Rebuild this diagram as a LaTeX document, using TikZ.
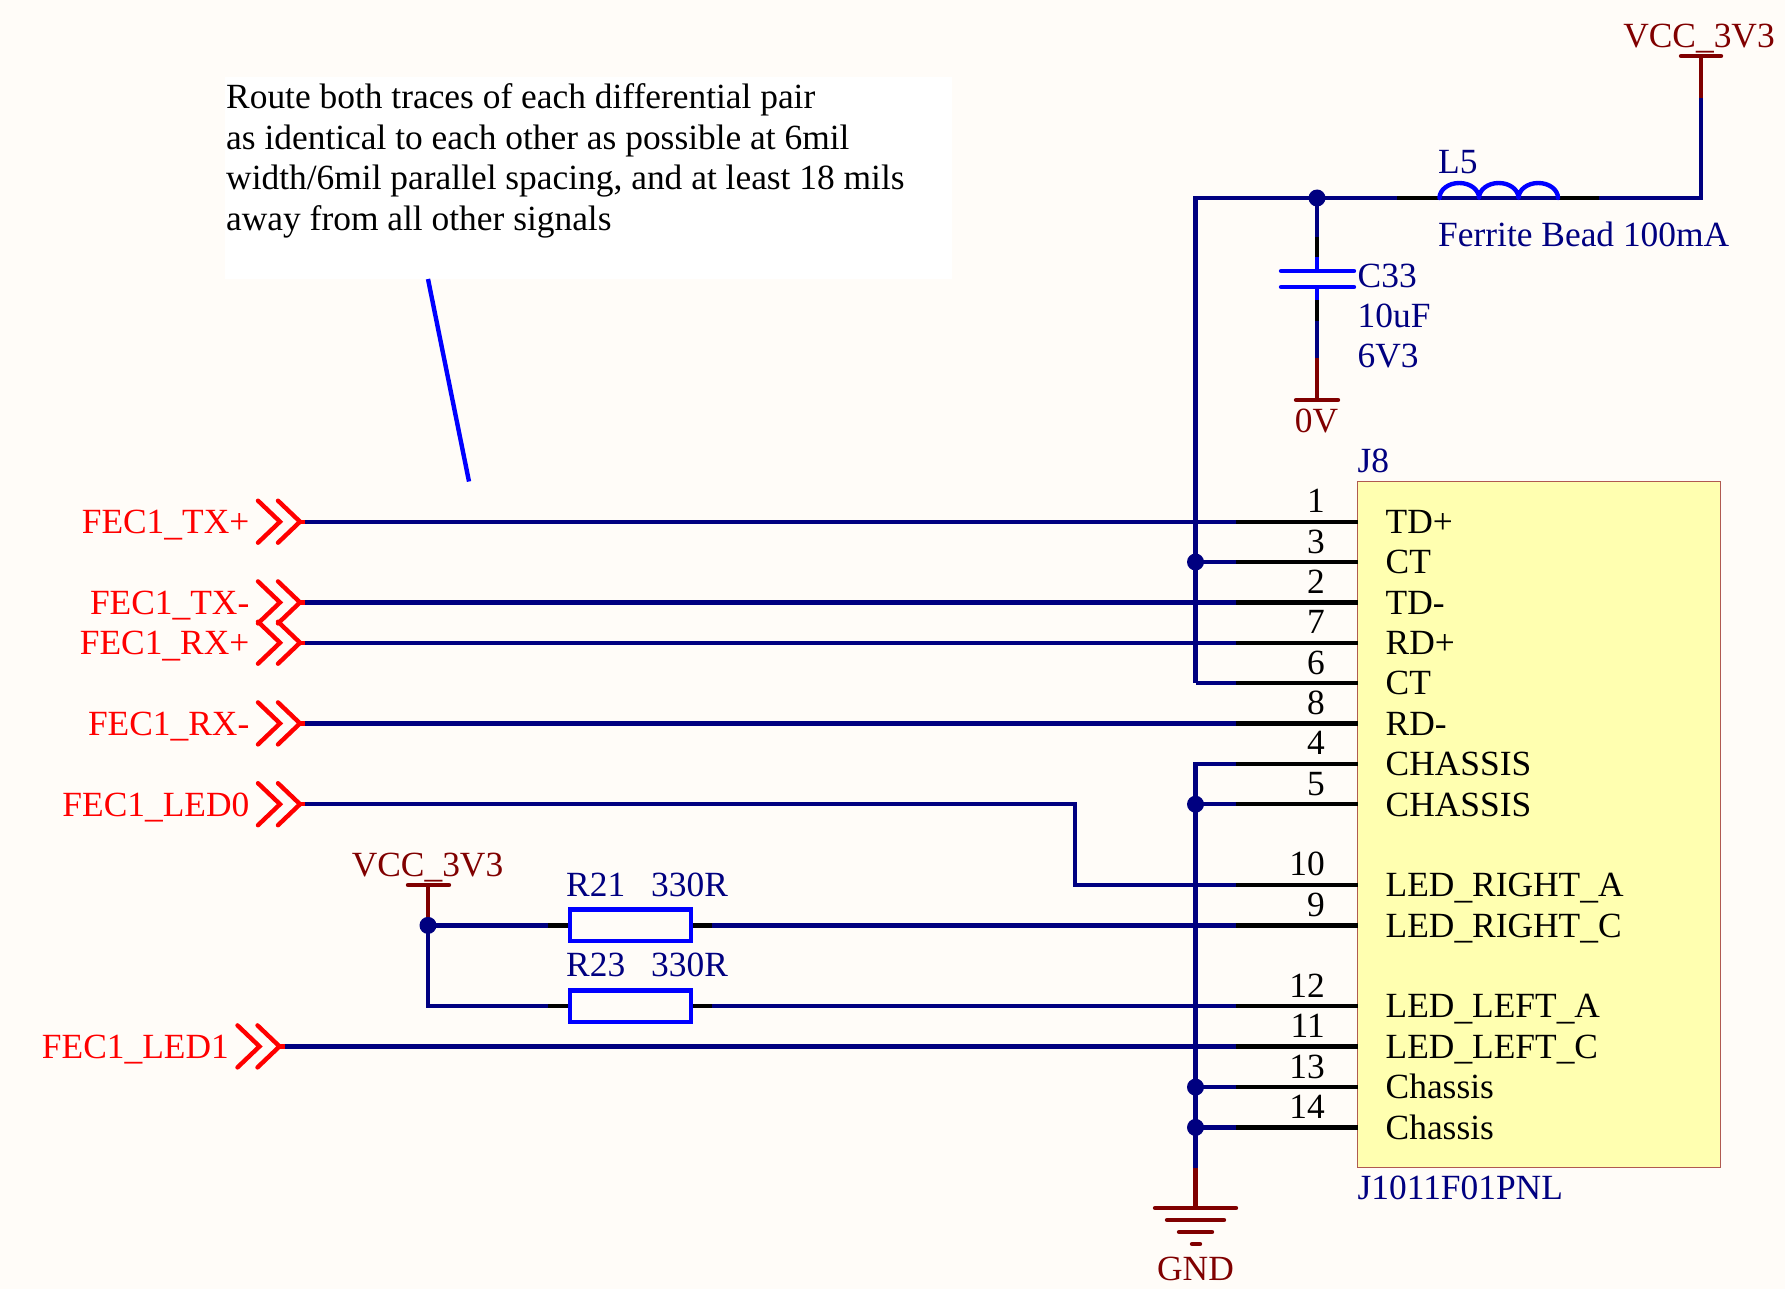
\documentclass[tikz,border=0pt]{standalone}
\usetikzlibrary{calc}
\usepackage{fontspec}
\setmainfont{Liberation Serif}
\definecolor{bgc}{HTML}{FFFCF8}
\definecolor{navyw}{HTML}{000080}
\definecolor{darkr}{HTML}{800000}
\definecolor{purer}{HTML}{FF0000}
\definecolor{pureb}{HTML}{0000FF}
\definecolor{boxfill}{HTML}{FFFFB0}
\definecolor{boxline}{HTML}{B05A50}
\newcommand\us{\raisebox{-1.5pt}{\_}}
\tikzset{
  x=1pt,y=-1pt,
  wire/.style={draw=navyw,line width=4.4pt},
  stub/.style={draw=black,line width=4.4pt},
  pwr/.style={draw=darkr,line width=4.4pt},
  pwrbar/.style={draw=darkr,line width=4.4pt,line cap=round},
  comp/.style={draw=pureb,line width=4.4pt,line cap=round,line join=round},
  dot/.style={circle,fill=navyw,inner sep=0pt,minimum size=17pt},
  txt/.style={inner sep=0pt,font=\fontsize{35.4}{40.4}\selectfont},
  ref/.style={txt,text=navyw,anchor=base west},
  pintxt/.style={txt,text=black,anchor=base west},
  numtxt/.style={txt,text=black,anchor=base east},
  pwrtxt/.style={txt,text=darkr,anchor=base},
  porttxt/.style={txt,text=purer,anchor=base east},
  notetxt/.style={txt,text=black,anchor=base west},
  pics/chev/.style={code={
    \draw[draw=purer,line width=4.4pt,line cap=round,line join=miter] (-42,-21) -- (-20,0) -- (-42,21);
    \draw[draw=purer,line width=4.4pt,line cap=round,line join=miter] (-22,-21) -- (0,0) -- (-22,21);
    \draw[draw=purer,line width=4.4pt] (0,0) -- (5,0);
  }},
}
\begin{document}
\begin{tikzpicture}
\useasboundingbox[fill=bgc] (0,0) rectangle (1785,1289);

% note
\node[fill=white,inner sep=0pt,anchor=north west] (notebox) at (225,77) {\rule{0pt}{202pt}\rule{727pt}{0pt}};
\node[notetxt] (note1) at (226,109) {Route both traces of each differential pair};
\node[notetxt] (note2) at (226,149.5) {as identical to each other as possible at 6mil};
\node[notetxt] (note3) at (226,190) {width/6mil parallel spacing, and at least 18 mils};
\node[notetxt] (note4) at (226,230.5) {away from all other signals};
\coordinate (noteA) at (428,279);
\coordinate (noteB) at (469,481.5);
\draw[draw=pureb,line width=4.4pt] (noteA) -- (noteB);

% connector body
\node[draw=boxline,fill=boxfill,line width=1.8pt,inner sep=0pt,anchor=north west,minimum width=363pt,minimum height=686pt] (J8body) at (1356.5,480.5) {};
\node[ref] (J8) at (1357.5,472) {J8};
\node[ref] (J8val) at (1357.5,1199) {J1011F01PNL};

% pins
\foreach \n/\y/\lab in {a1/521.7/TD+,a3/562/CT,a2/602.4/TD-,a7/642.7/RD+,a6/683.1/CT,a8/723.4/RD-,a4/763.8/CHASSIS,a5/804.2/CHASSIS,a10/884.9/LED\us RIGHT\us A,a9/925.4/LED\us RIGHT\us C,a12/1006.1/LED\us LEFT\us A,a11/1046.4/LED\us LEFT\us C,a13/1087.1/Chassis,a14/1127.4/Chassis}{
  \coordinate (s\n) at (1236,\y);
  \coordinate (p\n) at (1357.5,\y);
  \node[pintxt] (lab\n) at (1385.5,\y+11.8) {\lab};
}
\foreach \n/\y/\t in {a1/521.7/1,a3/562/3,a2/602.4/2,a7/642.7/7,a6/683.1/6,a8/723.4/8,a4/763.8/4,a5/804.2/5,a10/884.9/10,a9/925.4/9,a12/1006.1/12,a11/1046.4/11,a13/1087.1/13,a14/1127.4/14}{
  \node[numtxt] (num\n) at (1325,\y-9) {\t};
}

% ports
\coordinate (tipTXp) at (300,521.7);
\coordinate (tipTXm) at (300,602.4);
\coordinate (tipRXp) at (300,642.7);
\coordinate (tipRXm) at (300,723.4);
\coordinate (tipL0) at (300,804.2);
\coordinate (tipL1) at (279.5,1046.4);
\foreach \c in {tipTXp,tipTXm,tipRXp,tipRXm,tipL0,tipL1}{ \pic at (\c) {chev}; }
\node[porttxt] (nTXp) at (249.5,533.5) {FEC1\us TX+};
\node[porttxt] (nTXm) at (249.5,614.2) {FEC1\us TX-};
\node[porttxt] (nRXp) at (249.5,654.5) {FEC1\us RX+};
\node[porttxt] (nRXm) at (249.5,735.2) {FEC1\us RX-};
\node[porttxt] (nL0) at (249.5,816) {FEC1\us LED0};
\node[porttxt] (nL1) at (229,1058.2) {FEC1\us LED1};

% coordinates of the wires
\coordinate (topL) at (1195.5,198);
\coordinate (j1) at (1317,198);
\coordinate (lA) at (1397,198);
\coordinate (lB) at (1439.5,198);
\coordinate (lC) at (1558,198);
\coordinate (lD) at (1599,198);
\coordinate (vcc1) at (1701,198);
\coordinate (vcc2) at (1701,98);
\coordinate (vcc3) at (1701,56);
\coordinate (vccL) at (1681,56);
\coordinate (vccR) at (1721,56);
\coordinate (led0a) at (1075,804.2);
\coordinate (led0b) at (1075,884.9);
\coordinate (jr) at (428,925.4);
\coordinate (vr) at (428,885);
\coordinate (vrL) at (408,885);
\coordinate (vrR) at (449,885);
\coordinate (cr) at (428,1006.1);
\coordinate (gndTop) at (1195.5,763.8);
\coordinate (gndRed) at (1195.5,1168);
\coordinate (gndBot) at (1195.5,1208);

% wires
\draw[wire,line join=miter] (sa6 -| topL) -- (topL) -- (vcc1) -- (vcc2);
\draw[wire] (sa6 -| topL) -- (sa6);
\draw[wire] (sa3 -| topL) -- (sa3);
\draw[wire,line join=miter] (sa4) -- (gndTop) -- (gndRed);
\draw[wire] (gndTop |- sa5) -- (sa5);
\draw[wire] (gndTop |- sa13) -- (sa13);
\draw[wire] (gndTop |- sa14) -- (sa14);
\draw[wire] ($(tipTXp)+(5,0)$) -- (sa1);
\draw[wire] ($(tipTXm)+(5,0)$) -- (sa2);
\draw[wire] ($(tipRXp)+(5,0)$) -- (sa7);
\draw[wire] ($(tipRXm)+(5,0)$) -- (sa8);
\draw[wire,line join=miter] ($(tipL0)+(5,0)$) -- (led0a) -- (led0b) -- (sa10);
\draw[wire] ($(tipL1)+(5,0)$) -- (sa11);

% pin stubs
\foreach \n in {a1,a3,a2,a7,a6,a8,a4,a5,a10,a9,a12,a11,a13,a14}{
  \draw[stub] (s\n) -- (p\n);
}

% L5
\draw[stub] (lA) -- (lB);
\draw[stub] (lC) -- (lD);
\draw[comp] (lB) arc[start angle=180,end angle=0,x radius=19.75pt,y radius=15pt]
  arc[start angle=180,end angle=0,x radius=19.75pt,y radius=15pt]
  arc[start angle=180,end angle=0,x radius=19.75pt,y radius=15pt];
\node[ref] (L5) at (1438,174) {L5};
\node[ref] (L5val) at (1438,246.5) {Ferrite Bead 100mA};

% VCC top
\draw[pwr] (vcc2) -- (vcc3);
\draw[pwrbar] (vccL) -- (vccR);
\node[pwrtxt] (vccT) at (1699,47.5) {VCC\us 3V3};

% C33
\coordinate (c1) at (1317,237);
\coordinate (c2) at (1317,257);
\coordinate (c3) at (1317,271);
\coordinate (c4) at (1317,287);
\coordinate (c5) at (1317,300);
\coordinate (c6) at (1317,321);
\coordinate (c7) at (1317,358);
\coordinate (c8) at (1317,400);
\coordinate (plL) at (1281,271);
\coordinate (plR) at (1354,271);
\coordinate (plL2) at (1281,287);
\coordinate (plR2) at (1354,287);
\coordinate (zL) at (1296,400);
\coordinate (zR) at (1338,400);
\draw[wire] (j1) -- (c1);
\draw[stub] (c1) -- (c2);
\draw[draw=pureb,line width=4.4pt] (c2) -- (c3);
\draw[draw=pureb,line width=4.4pt] (c4) -- (c5);
\draw[comp] (plL) -- (plR);
\draw[comp] (plL2) -- (plR2);
\draw[stub] (c5) -- (c6);
\draw[wire] (c6) -- (c7);
\draw[pwr] (c7) -- (c8);
\draw[pwrbar] (zL) -- (zR);
\node[ref] (C33) at (1357.5,287.5) {C33};
\node[ref] (C33v) at (1357.5,327) {10uF};
\node[ref] (C33u) at (1357.5,367) {6V3};
\node[pwrtxt] (zeroV) at (1316.5,432) {0V};

% R21 / R23
\coordinate (r1a) at (548,925.4);
\coordinate (r1b) at (569.7,925.4);
\coordinate (r1c) at (690.7,925.4);
\coordinate (r1d) at (712,925.4);
\coordinate (r2a) at (548,1006.1);
\coordinate (r2b) at (569.7,1006.1);
\coordinate (r2c) at (690.7,1006.1);
\coordinate (r2d) at (712,1006.1);
\draw[wire] (jr) -- (r1a);
\draw[stub] (r1a) -- (r1b);
\draw[stub] (r1c) -- (r1d);
\draw[wire] (r1d) -- (sa9);
\draw[wire,line join=miter] (jr) -- (cr) -- (r2a);
\draw[stub] (r2a) -- (r2b);
\draw[stub] (r2c) -- (r2d);
\draw[wire] (r2d) -- (sa12);
\draw[stub] (sa9) -- (pa9);
\draw[stub] (sa12) -- (pa12);
\draw[comp,line cap=butt,line join=miter] (569.7,909.3) rectangle (690.7,940.7);
\draw[comp,line cap=butt,line join=miter] (569.7,990.3) rectangle (690.7,1022);
\node[ref] (R21) at (566,896) {R21};
\node[ref] (R21v) at (651,896) {330R};
\node[ref] (R23) at (566,976.7) {R23};
\node[ref] (R23v) at (651,976.7) {330R};
\draw[pwr] (vr) -- (jr);
\draw[pwrbar] (vrL) -- (vrR);
\node[pwrtxt] (vccL2) at (427.5,876) {VCC\us 3V3};

% GND
\coordinate (g1L) at (1155,1208);
\coordinate (g1R) at (1236,1208);
\coordinate (g2L) at (1167,1220);
\coordinate (g2R) at (1224,1220);
\coordinate (g3L) at (1179,1232);
\coordinate (g3R) at (1212,1232);
\coordinate (g4L) at (1192,1244);
\coordinate (g4R) at (1200,1244);
\draw[pwr] (gndRed) -- (gndBot);
\draw[pwrbar] (g1L) -- (g1R);
\draw[pwrbar] (g2L) -- (g2R);
\draw[pwrbar] (g3L) -- (g3R);
\draw[pwrbar] (g4L) -- (g4R);
\node[pwrtxt] (gndT) at (1195.5,1280) {GND};

% junctions
\node[dot] (d1) at (j1) {};
\node[dot] (d2) at (sa3 -| topL) {};
\node[dot] (d3) at (sa5 -| topL) {};
\node[dot] (d4) at (sa13 -| topL) {};
\node[dot] (d5) at (sa14 -| topL) {};
\node[dot] (d6) at (jr) {};
\end{tikzpicture}
\end{document}
